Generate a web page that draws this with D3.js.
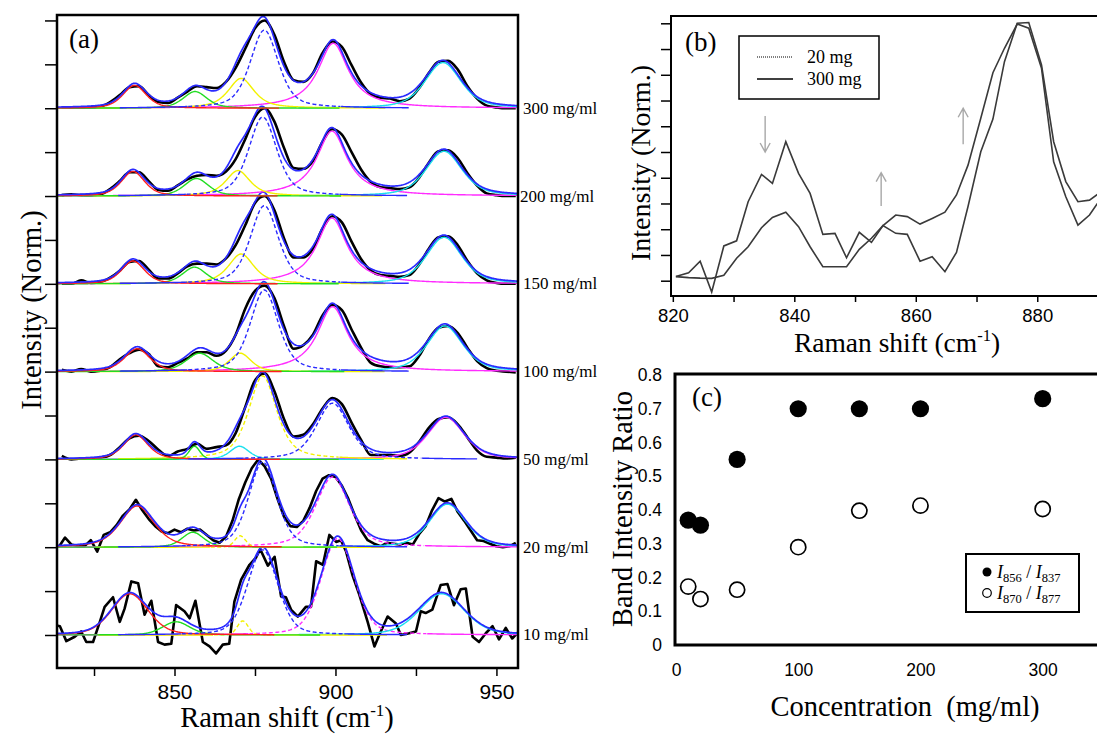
<!DOCTYPE html>
<html lang="en">
<head>
<meta charset="utf-8">
<title>Raman bands vs concentration</title>
<script src="https://d3js.org/d3.v7.min.js"></script>
<style>
  body { margin: 0; background: #fff; }
  svg text { font-family: "Liberation Serif", "Times New Roman", serif; fill: #000; }
  .num text, text.num { font-family: "Liberation Sans", Arial, sans-serif; }
  .tick line { stroke: #000; stroke-width: 1.5; }
  path.domain { display: none; }
</style>
</head>
<body>
<div id="vis"></div>
<script>

/* Data */
/* ==== */

// panel (a): spectra, bottom to top
const concLabels = ["10 mg/ml", "20 mg/ml", "50 mg/ml", "100 mg/ml", "150 mg/ml", "200 mg/ml", "300 mg/ml"];

// smooth spectra sampled every 3 cm-1
const shiftGrid = [815, 818, 821, 824, 827, 830, 833, 836, 839, 842, 845, 848, 851, 854, 857, 860,
  863, 866, 869, 872, 875, 878, 881, 884, 887, 890, 893, 896, 899, 902, 905, 908, 911, 914, 917, 920,
  923, 926, 929, 932, 935, 938, 941, 944, 947, 950, 953, 956];

const obs300 = [0.01, 0.01, 0.01, 0.01, 0.02, 0.07, 0.15, 0.24, 0.25, 0.15, 0.07, 0.06, 0.12, 0.19, 0.25, 0.24,
  0.23, 0.30, 0.46, 0.68, 0.91, 1.00, 0.84, 0.53, 0.32, 0.30, 0.40, 0.63, 0.76, 0.70, 0.49, 0.29, 0.16, 0.12, 0.11, 0.08,
  0.11, 0.23, 0.40, 0.53, 0.54, 0.44, 0.25, 0.11, 0.03, 0.01, 0.00, 0.00];
const obs200 = [0.01, 0.02, 0.01, 0.01, 0.02, 0.08, 0.17, 0.27, 0.27, 0.17, 0.07, 0.06, 0.12, 0.19, 0.23, 0.24,
  0.23, 0.28, 0.42, 0.65, 0.90, 1.00, 0.85, 0.55, 0.32, 0.31, 0.40, 0.62, 0.76, 0.70, 0.50, 0.30, 0.16, 0.10, 0.09, 0.08,
  0.10, 0.21, 0.38, 0.51, 0.52, 0.43, 0.26, 0.12, 0.03, 0.01, 0.00, 0.00];
const obs150 = [0.00, 0.00, 0.04, 0.01, 0.02, 0.07, 0.15, 0.25, 0.26, 0.16, 0.06, 0.06, 0.12, 0.20, 0.23, 0.23,
  0.22, 0.29, 0.44, 0.67, 0.92, 1.00, 0.84, 0.52, 0.30, 0.30, 0.40, 0.63, 0.77, 0.70, 0.48, 0.28, 0.15, 0.10, 0.09, 0.08,
  0.10, 0.22, 0.40, 0.53, 0.54, 0.44, 0.26, 0.12, 0.04, 0.01, 0.00, 0.00];
const obs100 = [0.02, 0.00, 0.03, 0.00, 0.01, 0.05, 0.14, 0.21, 0.25, 0.20, 0.06, 0.05, 0.10, 0.15, 0.22, 0.22,
  0.18, 0.24, 0.42, 0.72, 0.92, 0.98, 0.84, 0.52, 0.26, 0.30, 0.42, 0.64, 0.76, 0.70, 0.48, 0.27, 0.10, 0.06, 0.05, 0.05,
  0.06, 0.18, 0.37, 0.50, 0.52, 0.44, 0.27, 0.12, 0.04, 0.01, 0.00, -0.01];
const obs50 = [0.04, 0.00, 0.01, 0.01, 0.02, 0.05, 0.14, 0.24, 0.27, 0.21, 0.11, 0.04, 0.09, 0.12, 0.18, 0.12,
  0.14, 0.16, 0.30, 0.60, 0.90, 0.98, 0.78, 0.46, 0.26, 0.28, 0.40, 0.58, 0.70, 0.63, 0.42, 0.22, 0.05, 0.05, 0.05, 0.04,
  0.08, 0.20, 0.36, 0.46, 0.48, 0.40, 0.25, 0.10, 0.03, 0.02, 0.01, 0.02];

// noisy spectra
const shift20 = [814, 816, 818, 820, 822, 824, 826, 828, 830, 832, 834, 836, 838, 840, 842, 844, 846, 848,
  850, 852, 854, 856, 858, 860, 862, 864, 866, 868, 870, 872, 874, 876, 878, 880, 882, 884, 886, 888,
  890, 892, 894, 896, 898, 900, 902, 904, 906, 908, 910, 912, 914, 916, 918, 920, 922, 924, 926, 928,
  930, 932, 934, 936, 938, 940, 942, 944, 946, 948, 950, 952, 954, 956];
const obs20 = [0.00, 0.11, 0.03, 0.01, 0.01, 0.08, -0.05, 0.14, 0.17, 0.25, 0.36, 0.43, 0.54, 0.42, 0.32, 0.24,
  0.18, 0.16, 0.20, 0.17, 0.21, 0.19, 0.20, 0.14, 0.08, 0.05, 0.12, 0.30, 0.55, 0.74, 0.90, 1.00, 0.92, 0.78,
  0.55, 0.35, 0.24, 0.23, 0.30, 0.45, 0.64, 0.78, 0.82, 0.80, 0.70, 0.55, 0.36, 0.19, 0.08, 0.04, 0.01, 0.05,
  0.04, 0.03, 0.05, 0.03, 0.15, 0.24, 0.42, 0.56, 0.52, 0.55, 0.40, 0.30, 0.19, 0.08, 0.07, 0.04, 0.01, 0.00,
  0.01, 0.05];

const shift10 = [813.3, 814.4, 816.4, 819, 821, 822.6, 824.7, 826.8, 828.3, 830.9, 833, 834.5, 836.6, 838.7,
  840.7, 842.8, 844.9, 846.9, 849, 850.5, 853.1, 854.7, 856.5, 858.8, 860.9, 862.9, 865, 867, 868.6, 870.7,
  873.3, 875.3, 876.6, 879, 881.1, 883.1, 884.6, 886.2, 888.3, 890.8, 892.4, 894, 896.1, 898.1, 900.2, 901.7,
  903.3, 905.3, 907.4, 910, 912.1, 913.6, 916.2, 918.8, 920.3, 922.9, 925, 926.5, 928, 930.1, 932.7, 934.8,
  936.8, 938.9, 940.5, 942.6, 944.6, 946.7, 948.8, 950.8, 952.9, 954.9, 956.7];
const obs10 = [0.11, 0.10, -0.07, -0.02, 0.04, -0.08, -0.08, 0.15, 0.32, 0.43, 0.15, 0.30, 0.61, 0.59, 0.23,
  0.39, -0.08, -0.11, -0.10, 0.34, 0.27, 0.19, 0.39, -0.08, -0.13, -0.21, -0.11, -0.10, 0.38, 0.63, 0.80, 0.88,
  0.98, 0.79, 0.89, 0.44, 0.43, 0.29, 0.21, 0.32, 0.32, 0.84, 0.80, 1.14, 1.06, 1.08, 0.95, 0.68, 0.46, 0.15,
  -0.13, 0.00, 0.21, 0.13, 0.00, 0.02, 0.04, 0.27, 0.25, 0.29, 0.57, 0.58, 0.34, 0.52, 0.53, -0.02, -0.08, 0.02,
  0.10, -0.05, 0.08, -0.04, 0.03];

// fitted bands: [centre cm-1, height, FWHM cm-1, Lorentz fraction]
const fit300 = [[837.6, 0.26, 8.6, 0.5], [856.4, 0.19, 8.8, 0.5], [870.7, 0.34, 9.5, 0.7], [877.9, 0.89, 10.3, 0.5], [899.3, 0.74, 11.4, 1.0], [933.4, 0.52, 13.2, 0.5]];
const fit200 = [[837.1, 0.28, 8.6, 0.5], [856.8, 0.20, 9.0, 0.5], [869.7, 0.29, 9.0, 0.7], [877.4, 0.90, 10.3, 0.5], [898.9, 0.74, 11.4, 1.0], [933.7, 0.51, 13.2, 0.5]];
const fit150 = [[837.1, 0.26, 8.6, 0.5], [856.2, 0.19, 8.8, 0.5], [870.7, 0.34, 9.5, 0.7], [877.9, 0.89, 10.3, 0.5], [898.9, 0.75, 11.4, 1.0], [933.7, 0.53, 13.2, 0.5]];
const fit100 = [[838.4, 0.26, 9.5, 0.5], [857.8, 0.21, 10.0, 0.5], [870.4, 0.21, 8.0, 0.5], [877.9, 0.93, 10.3, 0.5], [899.1, 0.74, 11.4, 1.0], [934.0, 0.52, 13.2, 0.5]];
const fit50 = [[838.0, 0.28, 9.0, 0.5], [856.2, 0.15, 4.0, 0.3], [870.2, 0.15, 7.0, 0.5], [877.4, 0.95, 10.3, 0.6], [899.1, 0.64, 12.0, 0.5], [934.3, 0.48, 13.5, 0.5]];
const fit20 = [[838.4, 0.47, 12.4, 0.5], [855.7, 0.17, 8.0, 0.4], [870.4, 0.13, 4.0, 0.2], [877.4, 0.97, 10.3, 0.4], [899.1, 0.80, 12.4, 0.5], [934.8, 0.49, 13.4, 0.4]];
const fit10 = [[836.1, 0.47, 13.4, 0.3], [850.5, 0.15, 10.0, 0.3], [871.2, 0.16, 4.0, 0.1], [877.4, 0.97, 11.0, 0.3], [900.7, 1.10, 12.0, 0.3], [933.0, 0.47, 16.5, 0.3]];

// which colour each band is drawn with
const bandKeysStd = ["red", "green", "yellow", "blue", "magenta", "cyan"];
const bandKeys50 = ["red", "green", "cyan", "yellow", "blue", "magenta"];

// panel (b)
const shiftB20 = [820.5, 822.6, 824.5, 826.4, 828.4, 830.5, 832.4, 834.6, 836.4, 838.6, 840.7, 842.6, 844.7,
  846.7, 848.6, 850.7, 852.7, 854.6, 856.7, 858.6, 860.7, 862.7, 864.8, 866.7, 868.6, 870.7, 872.7, 874.6,
  876.7, 878.6, 880.7, 882.7, 884.7, 886.7, 888.6, 889.9];
const normB20 = [0.016, 0.031, 0.076, -0.044, 0.135, 0.155, 0.307, 0.413, 0.378, 0.540, 0.417, 0.339, 0.180,
  0.184, 0.089, 0.188, 0.149, 0.214, 0.184, 0.180, 0.076, 0.093, 0.035, 0.110, 0.288, 0.501, 0.628, 0.851,
  1.000, 1.003, 0.838, 0.540, 0.385, 0.307, 0.313, 0.335];
const normB300 = [0.016, 0.012, 0.010, 0.009, 0.021, 0.087, 0.132, 0.206, 0.246, 0.266, 0.210, 0.132, 0.054,
  0.054, 0.054, 0.122, 0.165, 0.214, 0.255, 0.249, 0.220, 0.242, 0.266, 0.333, 0.449, 0.631, 0.808, 0.903,
  0.997, 0.981, 0.825, 0.462, 0.326, 0.216, 0.255, 0.300];

// arrows in (b): shift, start, end (normalised intensity)
const arrowShift = [835.2, 854.3, 867.8];
const arrowFrom = [0.64, 0.29, 0.53];
const arrowTo = [0.50, 0.42, 0.67];

// panel (c)
const concentration = [10, 20, 50, 100, 150, 200, 300];
const ratio856 = [0.37, 0.355, 0.55, 0.70, 0.70, 0.70, 0.73];
const ratio870 = [0.173, 0.136, 0.164, 0.29, 0.398, 0.413, 0.403];


/* Set up */
/* ====== */

const colours = { red: "#ff1f1f", green: "#22dd22", yellow: "#f2f200", blue: "#2a2aff", magenta: "#ff2cff", cyan: "#1ae0ee" };

const spectra = [
  { obsX: shift10, obsY: obs10, fit: fit10, keys: bandKeysStd, dashed: ["yellow", "blue", "magenta"], curve: d3.curveLinear },
  { obsX: shift20, obsY: obs20, fit: fit20, keys: bandKeysStd, dashed: ["yellow", "blue", "magenta"], curve: d3.curveLinear },
  { obsX: shiftGrid, obsY: obs50, fit: fit50, keys: bandKeys50, dashed: ["yellow", "blue"], curve: d3.curveMonotoneX },
  { obsX: shiftGrid, obsY: obs100, fit: fit100, keys: bandKeysStd, dashed: ["blue"], curve: d3.curveMonotoneX },
  { obsX: shiftGrid, obsY: obs150, fit: fit150, keys: bandKeysStd, dashed: ["blue"], curve: d3.curveMonotoneX },
  { obsX: shiftGrid, obsY: obs200, fit: fit200, keys: bandKeysStd, dashed: ["blue"], curve: d3.curveMonotoneX },
  { obsX: shiftGrid, obsY: obs300, fit: fit300, keys: bandKeysStd, dashed: ["blue"], curve: d3.curveMonotoneX }
];

function band(x, p) {
  const u = 4 * (x - p[0]) * (x - p[0]) / (p[2] * p[2]);
  return p[1] * (p[3] / (1 + u) + (1 - p[3]) * Math.exp(-Math.LN2 * u));
}

const svg = d3.select("#vis").append("svg")
  .attr("width", 1097)
  .attr("height", 740);


/* Panel (a) */
/* ========= */

const xA = d3.scaleLinear().domain([813.5, 956.7]).range([57, 518]);
const yA = d3.scaleLinear().domain([-0.376, 7.062]).range([668, 15]);

svg.append("clipPath").attr("id", "clipA")
  .append("rect").attr("x", 57).attr("y", 15).attr("width", 461).attr("height", 653);

const gA = svg.append("g").attr("clip-path", "url(#clipA)");
const fine = d3.range(xA.domain()[0], xA.domain()[1] + 0.01, 0.25);

spectra.forEach(function (s, i) {
  const line = d3.line()
    .x(function (d) { return xA(d[0]); })
    .y(function (d) { return yA(i + d[1]); });

  // measured spectrum
  gA.append("path")
    .datum(s.obsX.map(function (x, j) { return [x, s.obsY[j]]; }))
    .attr("d", line.curve(s.curve))
    .attr("fill", "none")
    .attr("stroke", "#000")
    .attr("stroke-width", 2.6)
    .attr("stroke-linejoin", "round");

  line.curve(d3.curveLinear);

  // fitted bands: dashed ones are dashed only around their peak,
  // their tails run along the baseline as a plain line
  const order = ["magenta", "cyan", "yellow", "green", "red", "blue"];
  order.forEach(function (key) {
    const k = s.keys.indexOf(key);
    const p = s.fit[k];
    const span = key === "magenta" ? 200 : 45;
    const isDashed = s.dashed.indexOf(key) >= 0;
    const near = function (x) { return Math.abs(x - p[0]) < 2.3 * p[2]; };
    const xs = fine.filter(function (x) { return Math.abs(x - p[0]) < span; });
    const parts = isDashed
      ? [[xs.filter(function (x) { return x <= p[0] - 2.3 * p[2]; }), null],
         [xs.filter(near), "4,2.5"],
         [xs.filter(function (x) { return x >= p[0] + 2.3 * p[2]; }), null]]
      : [[xs, null]];
    parts.forEach(function (part) {
      gA.append("path")
        .datum(part[0].map(function (x) { return [x, band(x, p)]; }))
        .attr("d", line)
        .attr("fill", "none")
        .attr("stroke", colours[key])
        .attr("stroke-width", 1.4)
        .attr("stroke-dasharray", part[1]);
    });
  });

  // sum of bands
  gA.append("path")
    .datum(fine.map(function (x) { return [x, d3.sum(s.fit, function (p) { return band(x, p); })]; }))
    .attr("d", line)
    .attr("fill", "none")
    .attr("stroke", colours.blue)
    .attr("stroke-width", 1.7);
});

svg.append("g")
  .attr("transform", "translate(57,0)")
  .call(d3.axisLeft(yA).tickValues(d3.range(0, 7.01, 0.5)).tickSize(12).tickFormat(""));

svg.append("g")
  .attr("class", "num")
  .attr("transform", "translate(0,668)")
  .call(d3.axisBottom(xA).tickValues([825, 850, 875, 900, 925, 950]).tickSize(8).tickPadding(8)
    .tickFormat(function (d) { return d % 50 === 0 ? d : ""; }))
  .selectAll("text").attr("font-size", 21);

svg.append("rect")
  .attr("x", 57).attr("y", 15).attr("width", 461).attr("height", 653)
  .attr("fill", "none").attr("stroke", "#000").attr("stroke-width", 2.5);

svg.selectAll(".conc-label")
  .data(concLabels).enter()
  .append("text")
  .attr("class", "conc-label")
  .attr("x", function (d, i) { return i === 5 ? 520 : 523; })
  .attr("y", function (d, i) { return yA(i); })
  .attr("dominant-baseline", "central")
  .attr("font-size", 17)
  .text(function (d) { return d; });

svg.append("text").attr("x", 69).attr("y", 48).attr("font-size", 27).text("(a)");

svg.append("text")
  .attr("transform", "translate(31,310) rotate(-90)")
  .attr("text-anchor", "middle").attr("dominant-baseline", "central")
  .attr("font-size", 28.5)
  .text("Intensity (Norm.)");

const titleA = svg.append("text")
  .attr("x", 287).attr("y", 727).attr("text-anchor", "middle").attr("font-size", 28.5);
titleA.append("tspan").text("Raman shift (cm");
titleA.append("tspan").attr("font-size", 17).attr("dy", -11).text("-1");
titleA.append("tspan").attr("dy", 11).text(")");


/* Panel (b) */
/* ========= */

const xB = d3.scaleLinear().domain([819.7, 890]).range([671, 1098]);
const yB = d3.scaleLinear().domain([0, 1]).range([280.7, 23.3]);

svg.append("clipPath").attr("id", "clipB")
  .append("rect").attr("x", 671).attr("y", 16).attr("width", 430).attr("height", 280);

const lineB = d3.line()
  .x(function (d) { return xB(d[0]); })
  .y(function (d) { return yB(d[1]); });

const gB = svg.append("g").attr("clip-path", "url(#clipB)");
[normB20, normB300].forEach(function (series) {
  gB.append("path")
    .datum(shiftB20.map(function (x, j) { return [x, series[j]]; }))
    .attr("d", lineB)
    .attr("fill", "none")
    .attr("stroke", "#3a3a3a")
    .attr("stroke-width", 1.6);
});

arrowShift.forEach(function (s, i) {
  const x = xB(s), y1 = yB(arrowFrom[i]), y2 = yB(arrowTo[i]);
  const dir = y2 > y1 ? -1 : 1;
  gB.append("path")
    .attr("d", "M" + x + "," + y1 + "L" + x + "," + y2 +
      "M" + (x - 5) + "," + (y2 + dir * 9) + "L" + x + "," + y2 + "L" + (x + 5) + "," + (y2 + dir * 9))
    .attr("fill", "none")
    .attr("stroke", "#a8a8a8")
    .attr("stroke-width", 1.4);
});

svg.append("g")
  .attr("transform", "translate(671,0)")
  .call(d3.axisLeft(yB).tickValues(d3.range(0, 1.01, 0.1)).tickSize(10).tickFormat(""));

svg.append("g")
  .attr("class", "num")
  .attr("transform", "translate(0,296)")
  .call(d3.axisBottom(xB).tickValues([820, 830, 840, 850, 860, 870, 880, 890]).tickSize(6).tickPadding(7)
    .tickFormat(function (d) { return d % 20 === 0 ? d : ""; }))
  .selectAll("text").attr("font-size", 18.5);

svg.append("path")
  .attr("d", "M1100,16H671V296H1100")
  .attr("fill", "none").attr("stroke", "#000").attr("stroke-width", 2);

svg.append("text").attr("x", 685).attr("y", 51).attr("font-size", 27).text("(b)");

// legend (b)
svg.append("rect").attr("x", 739).attr("y", 36).attr("width", 140).attr("height", 63)
  .attr("fill", "#fff").attr("stroke", "#000").attr("stroke-width", 1.5);
svg.append("line").attr("x1", 757).attr("x2", 793).attr("y1", 57).attr("y2", 57)
  .attr("stroke", "#000").attr("stroke-width", 1.2).attr("stroke-dasharray", "1,1");
svg.append("line").attr("x1", 757).attr("x2", 793).attr("y1", 79).attr("y2", 79)
  .attr("stroke", "#000").attr("stroke-width", 1.5);
svg.append("text").attr("x", 807).attr("y", 63).attr("font-size", 18).text("20 mg");
svg.append("text").attr("x", 807).attr("y", 85).attr("font-size", 18).text("300 mg");

svg.append("text")
  .attr("transform", "translate(640,163) rotate(-90)")
  .attr("text-anchor", "middle").attr("dominant-baseline", "central")
  .attr("font-size", 28)
  .text("Intensity (Norm.)");

const titleB = svg.append("text")
  .attr("x", 897).attr("y", 352).attr("text-anchor", "middle").attr("font-size", 27.5);
titleB.append("tspan").text("Raman shift (cm");
titleB.append("tspan").attr("font-size", 16.5).attr("dy", -11).text("-1");
titleB.append("tspan").attr("dy", 11).text(")");


/* Panel (c) */
/* ========= */

const xC = d3.scaleLinear().domain([0, 350]).range([676, 1103.8]);
const yC = d3.scaleLinear().domain([0, 0.8]).range([645, 375]);

svg.append("g")
  .attr("class", "num")
  .attr("transform", "translate(675,0)")
  .call(d3.axisLeft(yC).tickValues(d3.range(0, 0.81, 0.1)).tickSize(0).tickPadding(13)
    .tickFormat(function (d) { return d === 0 ? "0" : d3.format(".1f")(d); }))
  .selectAll("text").attr("font-size", 17.5);

svg.append("g")
  .attr("class", "num")
  .attr("transform", "translate(0,645)")
  .call(d3.axisBottom(xC).tickValues([0, 100, 200, 300]).tickSize(0).tickPadding(19))
  .selectAll("text").attr("font-size", 17.5);

svg.append("path")
  .attr("d", "M1100,374H675V645H1100")
  .attr("fill", "none").attr("stroke", "#000").attr("stroke-width", 3);

svg.append("g").selectAll("circle")
  .data(concentration).enter()
  .append("circle")
  .attr("cx", function (d) { return xC(d); })
  .attr("cy", function (d, i) { return yC(ratio870[i]); })
  .attr("r", 7.6)
  .attr("fill", "#fff").attr("stroke", "#000").attr("stroke-width", 1.7);

svg.append("g").selectAll("circle")
  .data(concentration).enter()
  .append("circle")
  .attr("cx", function (d) { return xC(d); })
  .attr("cy", function (d, i) { return yC(ratio856[i]); })
  .attr("r", 8.6)
  .attr("fill", "#000");

svg.append("text").attr("x", 692).attr("y", 406).attr("font-size", 27).text("(c)");

// legend (c)
svg.append("rect").attr("x", 966).attr("y", 554).attr("width", 113).attr("height", 58)
  .attr("fill", "#fff").attr("stroke", "#000").attr("stroke-width", 2);
svg.append("circle").attr("cx", 987).attr("cy", 572).attr("r", 4.5).attr("fill", "#000");
svg.append("circle").attr("cx", 987).attr("cy", 593).attr("r", 4.3)
  .attr("fill", "#fff").attr("stroke", "#000").attr("stroke-width", 1.2);

[["856", "837", 578], ["870", "877", 599]].forEach(function (r) {
  const t = svg.append("text").attr("x", 997).attr("y", r[2]).attr("font-size", 18);
  t.append("tspan").attr("font-style", "italic").text("I");
  t.append("tspan").attr("font-size", 12.5).attr("dy", 4).text(r[0]);
  t.append("tspan").attr("dy", -4).text(" / ");
  t.append("tspan").attr("font-style", "italic").text("I");
  t.append("tspan").attr("font-size", 12.5).attr("dy", 4).text(r[1]);
});

svg.append("text")
  .attr("transform", "translate(622,509) rotate(-90)")
  .attr("text-anchor", "middle").attr("dominant-baseline", "central")
  .attr("font-size", 28.5)
  .text("Band Intensity Ratio");

svg.append("text")
  .attr("x", 905).attr("y", 716).attr("text-anchor", "middle").attr("font-size", 28.5)
  .attr("xml:space", "preserve")
  .text("Concentration  (mg/ml)");

</script>
</body>
</html>
